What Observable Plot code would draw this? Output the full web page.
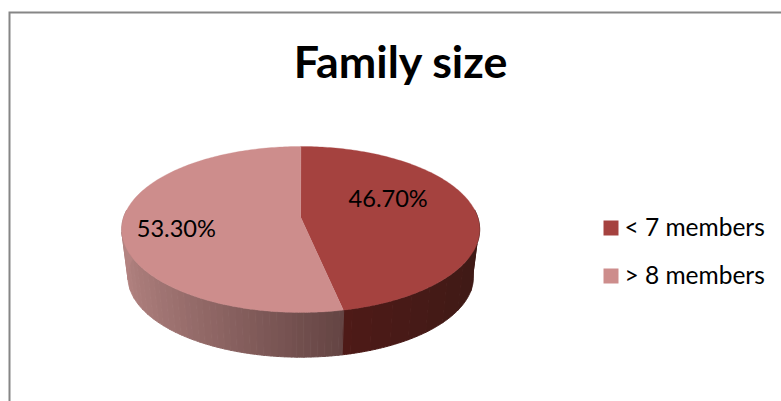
<!DOCTYPE html>
<html><head><meta charset="utf-8">
<script src="https://cdn.jsdelivr.net/npm/d3@7"></script>
<script src="https://cdn.jsdelivr.net/npm/@observablehq/plot@0.6"></script>
<style>html,body{margin:0;padding:0;background:#fff;overflow:hidden}</style>
</head><body><div id="chart"></div>
<script>
const title = "Family size";
const categories = ["< 7 members", "> 8 members"];
const shares = [46.7, 53.3];
const shareLabels = ["46.70%", "53.30%"];
const topColors = ["#a5423f", "#cd8d8c"];
const wallColors = [["#4e1a17", "#3e1a16"], ["#b38381", "#644443"]];
const labelU = [0.511, -0.687];
const labelV = [0.23, -0.15];
const swatchY = [227.5, 275.5];

const deg = Math.PI / 180;
const total = d3.sum(shares);
const k = 0.148, cx = 300.2, cy = 216.7, B = 177, A = 81.2, depth = 48, shrink = 0.965;
const view = d3.geoTransform({
  point(u, v, z = 0) {
    const w = 1 + k * v, s = 1 - (1 - shrink) * z;
    this.stream.point(cx + s * B * u / w, cy + depth * z - s * A * v / w);
  }
});
const rim = (t, z = 0) => [Math.sin(t * deg), Math.cos(t * deg), z];
const poly = (ring, fill) => ({type: "Feature", properties: {fill}, geometry: {type: "Polygon", coordinates: [[...ring, ring[0]]]}});

const tops = [], walls = [];
let a0 = 0;
shares.forEach((s, i) => {
  const a1 = a0 + s / total * 360;
  const ring = [[0, 0, 0]];
  for (let t = a0; t < a1; t += 1) ring.push(rim(t));
  ring.push(rim(a1));
  tops.push(poly(ring, topColors[i]));
  const from = Math.max(a0, 85), to = Math.min(a1, 275);
  const col = d3.interpolateRgb(wallColors[i][0], wallColors[i][1]);
  const levels = i === 0 ? 8 : 36;
  const level = t => {
    const sm = Math.sin(t * deg);
    const raw = i === 0
      ? (sm - Math.sin(a1 * deg)) / (1 - Math.sin(a1 * deg))
      : (sm + 1) / (Math.sin(a0 * deg) + 1);
    return Math.round(Math.max(0, Math.min(1, raw)) * levels);
  };
  // one polygon per colour band, so no seams appear inside a band
  let start = from, cur = level(from);
  const flush = end => {
    const upper = [], lower = [];
    for (let t = start; t < end; t += 0.5) { upper.push(rim(t)); lower.push(rim(t, 1)); }
    upper.push(rim(end)); lower.push(rim(end, 1));
    walls.push(poly([...upper, ...lower.reverse()], col(cur / levels)));
  };
  for (let t = from + 0.5; t < to; t += 0.5) {
    const l = level(t);
    if (l !== cur) { flush(t); start = t; cur = l; }
  }
  flush(to);
  a0 = a1;
});

const textBase = {frameAnchor: "top-left", lineAnchor: "middle", fontFamily: "Lato", fill: "#000"};
const plot = Plot.plot({
  width: 781, height: 401, margin: 0,
  projection: view,
  marks: [
    Plot.frame({stroke: "#868686", strokeWidth: 2, insetLeft: 9, insetTop: 12, insetRight: -20, insetBottom: -20}),
    Plot.geo(walls, {fill: d => d.properties.fill, stroke: d => d.properties.fill, strokeWidth: 1}),
    Plot.geo(tops, {fill: d => d.properties.fill, stroke: d => d.properties.fill, strokeWidth: 0.3}),
    Plot.text(shareLabels, {x: (d, i) => labelU[i], y: (d, i) => labelV[i], text: d => d, fontSize: 23.6, fontFamily: "Lato", fill: "#000"}),
    Plot.text([title], {...textBase, dx: 400, dy: 63, text: d => d, textAnchor: "middle", fontSize: 44.8, fontWeight: 700}),
    Plot.dot(categories, {frameAnchor: "top-left", filter: (d, i) => i === 0, dx: 610.5, dy: swatchY[0], symbol: "square", r: 8.46, fill: topColors[0]}),
    Plot.dot(categories, {frameAnchor: "top-left", filter: (d, i) => i === 1, dx: 610.5, dy: swatchY[1], symbol: "square", r: 8.46, fill: topColors[1]}),
    Plot.text(categories, {...textBase, filter: (d, i) => i === 0, dx: 624, dy: swatchY[0], text: d => d, textAnchor: "start", fontSize: 24.5}),
    Plot.text(categories, {...textBase, filter: (d, i) => i === 1, dx: 624, dy: swatchY[1], text: d => d, textAnchor: "start", fontSize: 24.5})
  ]
});
document.getElementById("chart").appendChild(plot);
</script>
</body></html>
